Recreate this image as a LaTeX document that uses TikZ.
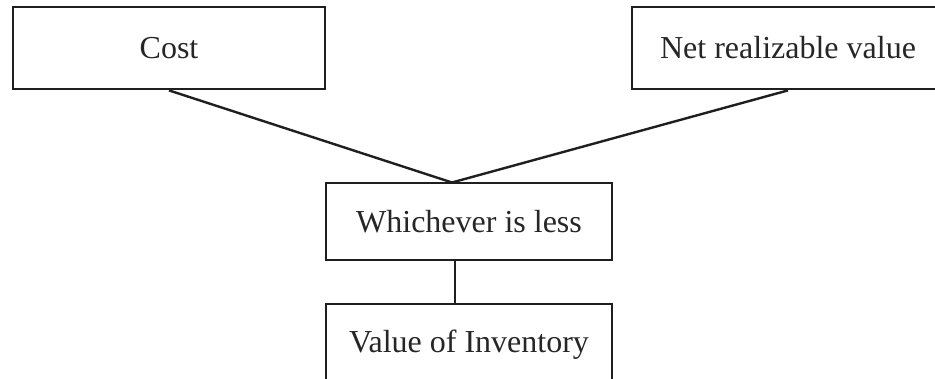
\documentclass[tikz,border=0pt]{standalone}
\usepackage{fontspec}
\setmainfont{Liberation Serif}
\usetikzlibrary{calc}
\begin{document}
\begin{tikzpicture}[x=1pt,y=1pt,
  box/.style={draw=black!88, line width=2.8pt, inner sep=0pt, anchor=center,
    font=\fontsize{32}{36}\selectfont, text=black!85},
  link/.style={draw=black!88, line width=2.4pt}]
\useasboundingbox (0,0) rectangle (935,379);
\clip (0,0) rectangle (935,379);
\node[box, minimum width=312pt, minimum height=82pt] (cost) at (169,331) {Cost};
\node[box, minimum width=312pt, minimum height=82pt] (net) at (788,331) {Net realizable value};
\node[box, minimum width=286pt, minimum height=77pt] (which) at (469,157.5) {Whichever is less};
\node[box, minimum width=286pt, minimum height=82pt] (value) at (469,34) {\raisebox{2pt}{Value of Inventory}};
\coordinate (apex) at (452,196.5);
\draw[link] (cost.south) -- (apex) -- (net.south);
\draw[link] ($(which.south)+(-14,0)$) -- ($(value.north)+(-14,0)$);
\end{tikzpicture}
\end{document}
